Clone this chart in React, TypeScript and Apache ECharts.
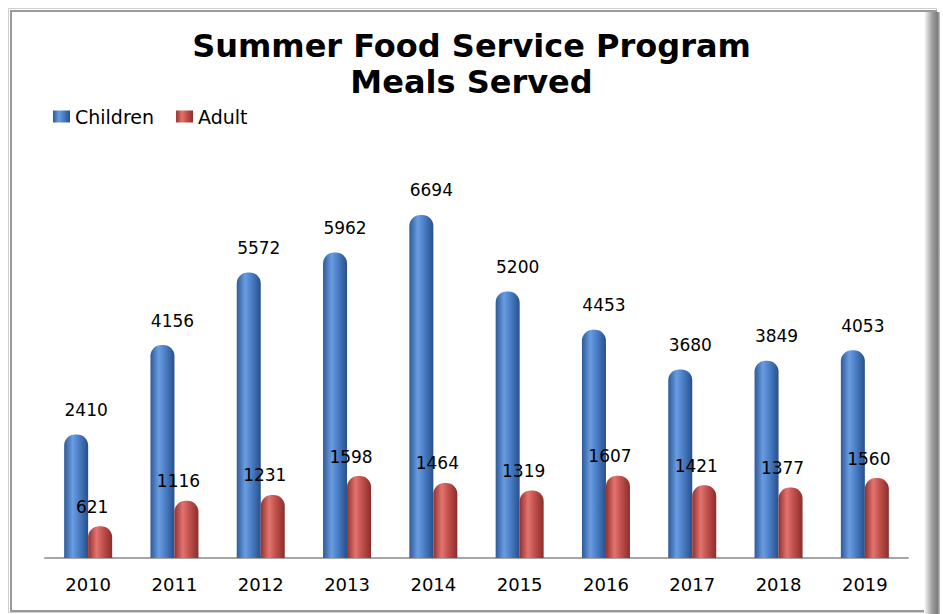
import React, { useEffect, useRef } from "react";
import * as echarts from "echarts";

const years = ["2010", "2011", "2012", "2013", "2014", "2015", "2016", "2017", "2018", "2019"];
const children = [2410, 4156, 5572, 5962, 6694, 5200, 4453, 3680, 3849, 4053];
const adult = [621, 1116, 1231, 1598, 1464, 1319, 1607, 1421, 1377, 1560];

const blueGrad = new echarts.graphic.LinearGradient(0, 0, 1, 0, [
  { offset: 0, color: "#2d5a99" },
  { offset: 0.35, color: "#6a9ce0" },
  { offset: 0.6, color: "#4c80c8" },
  { offset: 1, color: "#28508a" },
]);
const redGrad = new echarts.graphic.LinearGradient(0, 0, 1, 0, [
  { offset: 0, color: "#93312e" },
  { offset: 0.35, color: "#e27470" },
  { offset: 0.6, color: "#c5524e" },
  { offset: 1, color: "#8a2e2b" },
]);

export default function App() {
  const ref = useRef<HTMLDivElement>(null);
  useEffect(() => {
    document.body.style.margin = "0";
    const chart = echarts.init(ref.current!, null, { renderer: "svg" });
    const labelFont = "DejaVu Sans";
    chart.setOption({
      animation: false,
      backgroundColor: "#ffffff",
      title: {
        text: "Summer Food Service Program\nMeals Served",
        left: "center",
        top: 28,
        padding: 0,
        textStyle: {
          fontFamily: "DejaVu Sans",
          fontWeight: "bold",
          fontSize: 32,
          lineHeight: 36,
          color: "#000000",
        },
      },
      legend: {
        left: 48,
        top: 102,
        itemWidth: 17,
        itemHeight: 12,
        itemGap: 22,
        icon: "rect",
        textStyle: { fontFamily: labelFont, fontSize: 19, color: "#000" },
        data: ["Children", "Adult"],
      },
      grid: { left: 45, right: 35, top: 148, bottom: 56 },
      xAxis: {
        type: "category",
        data: years,
        axisLine: { lineStyle: { color: "#a6a6a6", width: 2 } },
        axisTick: { show: false },
        axisLabel: { fontFamily: labelFont, fontSize: 18, color: "#000", margin: 17 },
      },
      yAxis: {
        type: "value",
        min: 0,
        max: 8000,
        show: false,
        splitLine: { show: false },
      },
      series: [
        {
          name: "Children",
          type: "bar",
          data: children,
          barWidth: 24,
          barGap: "0%",
          itemStyle: { color: blueGrad, borderRadius: [11, 11, 0, 0] },
          label: {
            show: true,
            position: "top",
            distance: 16,
            offset: [10, 0],
            fontFamily: labelFont,
            fontSize: 17,
            color: "#000",
          },
        },
        {
          name: "Adult",
          type: "bar",
          data: adult,
          barWidth: 24,
          barGap: "0%",
          itemStyle: { color: redGrad, borderRadius: [11, 11, 0, 0] },
          label: {
            show: true,
            position: "top",
            distance: 11,
            offset: [-8, 0],
            fontFamily: labelFont,
            fontSize: 17,
            color: "#000",
          },
        },
      ],
      graphic: [
        {
          type: "rect",
          shape: { x: 8.5, y: 8.5, width: 928, height: 604 },
          style: { fill: "none", stroke: "#cfcfcf", lineWidth: 1 },
          silent: true,
        },
        {
          type: "rect",
          shape: { x: 11, y: 11, width: 925, height: 600 },
          style: { fill: "none", stroke: "#9a9a9a", lineWidth: 2 },
          silent: true,
        },
        {
          type: "rect",
          shape: { x: 924, y: 12, width: 16, height: 602 },
          style: {
            fill: new echarts.graphic.LinearGradient(0, 0, 1, 0, [
              { offset: 0, color: "rgba(255,255,255,1)" },
              { offset: 0.5, color: "#a0a0a0" },
              { offset: 0.85, color: "#7c7c7c" },
              { offset: 1, color: "#c8c8c8" },
            ]),
          },
          silent: true,
        },
      ],
    });
    return () => chart.dispose();
  }, []);
  return <div ref={ref} style={{ width: 943, height: 614 }} />;
}
